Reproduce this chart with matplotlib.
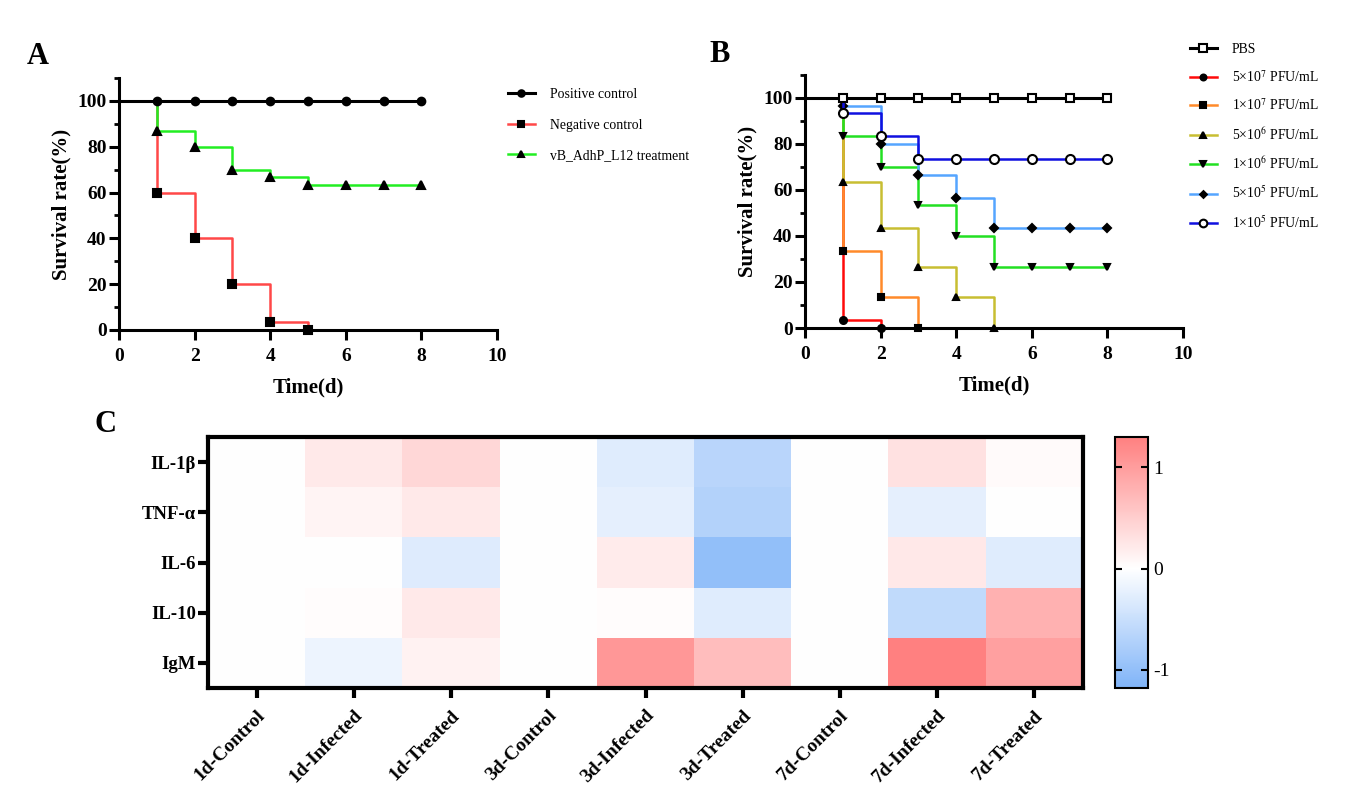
import matplotlib
matplotlib.use("Agg")
import matplotlib.pyplot as plt
import numpy as np
from matplotlib.colors import LinearSegmentedColormap, Normalize
from matplotlib.ticker import MultipleLocator

plt.rcParams['font.family'] = ['Liberation Serif', 'DejaVu Serif']
plt.rcParams['mathtext.fontset'] = 'stix'

# ---------------- data ----------------
days = [0, 1, 2, 3, 4, 5, 6, 7, 8]

# Panel A
a_pos = [100, 100, 100, 100, 100, 100, 100, 100, 100]
a_neg_days = [0, 1, 2, 3, 4, 5]
a_neg = [100, 60, 40, 20, 3.33, 0]
a_trt = [100, 86.7, 80, 70, 66.7, 63.3, 63.3, 63.3, 63.3]
a_labels = ["Positive control", "Negative control", "vB_AdhP_L12 treatment"]

# Panel B
b_pbs = [100, 100, 100, 100, 100, 100, 100, 100, 100]
b_5e7_days = [0, 1, 2]
b_5e7 = [100, 3.33, 0]
b_1e7_days = [0, 1, 2, 3]
b_1e7 = [100, 33.3, 13.3, 0]
b_5e6_days = [0, 1, 2, 3, 4, 5]
b_5e6 = [100, 63.3, 43.3, 26.7, 13.3, 0]
b_1e6 = [100, 83.3, 70, 53.3, 40, 26.7, 26.7, 26.7, 26.7]
b_5e5 = [100, 96.7, 80, 66.7, 56.7, 43.3, 43.3, 43.3, 43.3]
b_1e5 = [100, 93.3, 83.3, 73.3, 73.3, 73.3, 73.3, 73.3, 73.3]
b_labels = ["PBS", r"5×10$^{7}$ PFU/mL", r"1×10$^{7}$ PFU/mL", r"5×10$^{6}$ PFU/mL",
            r"1×10$^{6}$ PFU/mL", r"5×10$^{5}$ PFU/mL", r"1×10$^{5}$ PFU/mL"]

# Panel C
genes = ["IL-1β", "TNF-α", "IL-6", "IL-10", "IgM"]
groups = ["1d-Control", "1d-Infected", "1d-Treated", "3d-Control", "3d-Infected",
          "3d-Treated", "7d-Control", "7d-Infected", "7d-Treated"]
heat = np.array([
    [0, 0.22, 0.40, 0, -0.29, -0.64, 0, 0.30, 0.05],
    [0, 0.10, 0.22, 0, -0.24, -0.70, 0, -0.24, 0.00],
    [0, 0.00, -0.30, 0, 0.20, -1.00, 0, 0.23, -0.29],
    [0, 0.03, 0.22, 0, 0.03, -0.29, 0, -0.57, 0.79],
    [0, -0.16, 0.12, 0, 1.05, 0.67, 0, 1.30, 0.97],
])
cb_min, cb_max = -1.18, 1.30

# ---------------- figure ----------------
W, H = 1346, 806
fig = plt.figure(figsize=(W / 100, H / 100), dpi=100)

def style_survival(ax):
    ax.set_xlim(0, 10)
    ax.set_ylim(0, 110)
    for s in ['top', 'right']:
        ax.spines[s].set_visible(False)
    for s in ['left', 'bottom']:
        ax.spines[s].set_linewidth(2.2)
    ax.set_xticks([0, 2, 4, 6, 8, 10])
    ax.set_yticks([0, 20, 40, 60, 80, 100])
    ax.yaxis.set_minor_locator(MultipleLocator(10))
    ax.tick_params(axis='both', which='major', direction='out', length=7, width=2.2,
                   labelsize=14)
    ax.tick_params(axis='x', which='major', pad=6)
    ax.tick_params(axis='y', which='major', pad=2)
    ax.tick_params(axis='y', which='minor', direction='out', length=3.8, width=2.0)
    for lab in ax.get_xticklabels() + ax.get_yticklabels():
        lab.set_fontweight('bold')
    ax.set_xlabel("Time(d)", fontsize=15, fontweight='bold', labelpad=9)
    ax.set_ylabel("Survival rate(%)", fontsize=15, fontweight='bold', labelpad=4)

def surv(ax, x, y, color, marker, mfc='black', lw=1.8, ms=5.5, label=None, z=3):
    ax.step(x, y, where='post', color=color, lw=lw, zorder=z, clip_on=False)
    ax.plot(x[1:], y[1:], linestyle='none', marker=marker, color='black',
            mfc=mfc, mec='black', ms=ms, mew=1.5, zorder=z + 1, clip_on=False)
    ax.plot([], [], color=color, lw=lw, marker=marker, mfc=mfc, mec='black',
            ms=ms * 0.85, mew=1.5, label=label)

LEG_FS = 9.9

# Panel A
axA = fig.add_axes([119 / W, 1 - 330 / H, 378 / W, 252 / H])
surv(axA, a_neg_days, a_neg, '#ff4848', 's', label=a_labels[1], z=3)
surv(axA, days, a_trt, '#22ee22', '^', label=a_labels[2], z=3)
surv(axA, days, a_pos, 'black', 'o', lw=2.2, label=a_labels[0], z=5)
style_survival(axA)
h, l = axA.get_legend_handles_labels()
order = [2, 0, 1]
fig.legend([h[i] for i in order], [l[i] for i in order], loc='upper left',
           bbox_to_anchor=(508 / W, 1 - 88 / H), bbox_transform=fig.transFigure,
           frameon=False, fontsize=LEG_FS, borderpad=0, borderaxespad=0,
           handlelength=1.95, labelspacing=1.28, handletextpad=1.1)

# Panel B
axB = fig.add_axes([805 / W, 1 - 328 / H, 378 / W, 253 / H])
surv(axB, b_5e7_days, b_5e7, '#ff0a0a', 'o', ms=5, label=b_labels[1], z=3)
surv(axB, b_1e7_days, b_1e7, '#ff8a2a', 's', ms=5, label=b_labels[2], z=3)
surv(axB, b_5e6_days, b_5e6, '#c8be32', '^', ms=5, label=b_labels[3], z=3)
surv(axB, days, b_1e6, '#22e022', 'v', ms=5, label=b_labels[4], z=3)
surv(axB, days, b_5e5, '#55a5ff', 'D', ms=4, label=b_labels[5], z=3)
surv(axB, days, b_1e5, '#1010e0', 'o', mfc='white', ms=6.5, label=b_labels[6], z=4)
surv(axB, days, b_pbs, 'black', 's', mfc='white', lw=2.2, ms=6, label=b_labels[0], z=5)
style_survival(axB)
h, l = axB.get_legend_handles_labels()
order = [6, 0, 1, 2, 3, 4, 5]
fig.legend([h[i] for i in order], [l[i] for i in order], loc='upper left',
           bbox_to_anchor=(1190 / W, 1 - 43 / H), bbox_transform=fig.transFigure,
           frameon=False, fontsize=LEG_FS, borderpad=0, borderaxespad=0,
           handlelength=1.95, labelspacing=0.93, handletextpad=1.1)

# Panel C
axC = fig.add_axes([208 / W, 1 - 688 / H, 875 / W, 251 / H])
f0 = (0 - cb_min) / (cb_max - cb_min)
cmap = LinearSegmentedColormap.from_list(
    'bwr_custom', [(0.0, '#80b4f8'), (f0, '#ffffff'), (1.0, '#ff8080')])
norm = Normalize(vmin=cb_min, vmax=cb_max)
im = axC.imshow(heat, cmap=cmap, norm=norm, aspect='auto', interpolation='nearest')
axC.set_xticks(range(len(groups)))
axC.set_xticklabels(groups, rotation=45, ha='right', rotation_mode='anchor',
                    fontsize=14, fontweight='bold')
axC.set_yticks(range(len(genes)))
axC.set_yticklabels(genes, fontsize=13.5, fontweight='bold')
axC.tick_params(axis='x', direction='out', length=7.5, width=3, pad=6)
axC.tick_params(axis='y', direction='out', length=7, width=3, pad=1.5)
for s in axC.spines.values():
    s.set_linewidth(3)

cax = fig.add_axes([1115 / W, 1 - 688 / H, 33 / W, 251 / H])
cb = fig.colorbar(im, cax=cax, ticks=[-1, 0, 1])
cb.outline.set_linewidth(1.5)
cax.tick_params(direction='in', left=True, right=True, length=5, width=1.5,
                labelsize=14, pad=4)
cax.set_yticklabels(['-1', '0', '1'])

# Panel letters
fig.text(38 / W, 1 - 57 / H, "A", fontsize=22, fontweight='bold', va='center', ha='center')
fig.text(720 / W, 1 - 55 / H, "B", fontsize=22, fontweight='bold', va='center', ha='center')
fig.text(105 / W, 1 - 424 / H, "C", fontsize=22, fontweight='bold', va='center', ha='center')

fig.savefig("out.png", dpi=100)
